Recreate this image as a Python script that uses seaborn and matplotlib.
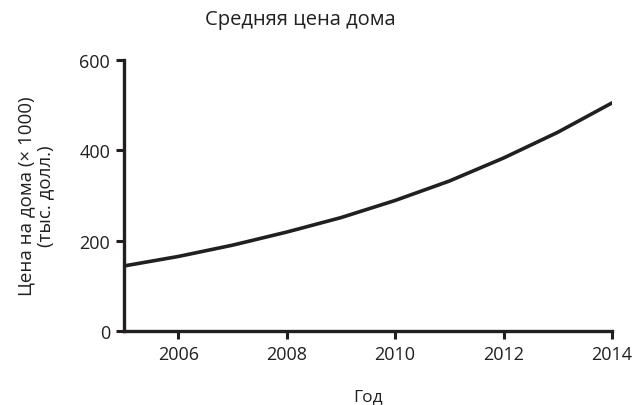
import matplotlib
matplotlib.use('Agg')
import matplotlib.pyplot as plt
import seaborn as sns
import pandas as pd

# Data
years = [2005, 2006, 2007, 2008, 2009, 2010, 2011, 2012, 2013, 2014]
prices = [144, 165, 190, 219, 251, 289, 332, 383, 440, 505]
x_ticks = [2006, 2008, 2010, 2012, 2014]
y_ticks = [0, 200, 400, 600]

INK = '#231f20'

sns.set_theme(style='ticks')
plt.rcParams['font.family'] = ['Open Sans', 'DejaVu Sans']
plt.rcParams.update({
    'text.color': INK,
    'axes.labelcolor': INK,
    'xtick.color': INK,
    'ytick.color': INK,
    'axes.edgecolor': INK,
})

df = pd.DataFrame({'year': years, 'price': prices})

fig = plt.figure(figsize=(6.34, 4.06), dpi=100)
ax = fig.add_axes([124 / 634, 1 - 332 / 406, (612 - 124) / 634, (332 - 61) / 406])

sns.lineplot(data=df, x='year', y='price', ax=ax, color=INK, linewidth=2.6)

ax.set_xlim(2005, 2014)
ax.set_ylim(0, 600)
ax.set_xticks(x_ticks)
ax.set_yticks(y_ticks)
ax.tick_params(axis='both', length=6, width=2.2, labelsize=13, pad=4)
for side in ['left', 'bottom']:
    ax.spines[side].set_linewidth(2.4)
sns.despine(ax=ax)

ax.set_xlabel('Год', fontsize=12.5, labelpad=18)
ax.set_ylabel('Цена на дома (× 1000)\n(тыс. долл.)', fontsize=13.5, labelpad=18, linespacing=1.1)

fig.text(300 / 634, 1 - 20 / 406, 'Средняя цена дома', ha='center', va='center', fontsize=14.5)

fig.savefig('out.png', dpi=100)
